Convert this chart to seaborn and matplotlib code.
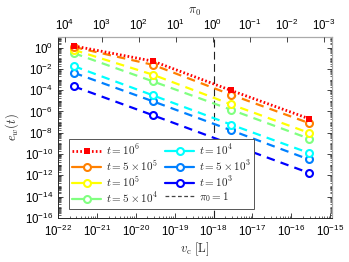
import matplotlib
matplotlib.use("Agg")
import matplotlib.pyplot as plt
import matplotlib.ticker as mticker
from matplotlib.lines import Line2D
import seaborn as sns
import numpy as np
import pandas as pd

# data
vc = [2.6e-22, 2.8e-20, 2.8e-18, 2.8e-16]
times = ["1e6", "5e5", "1e5", "5e4", "1e4", "5e3", "1e3"]
labels = [r"$t = 10^6$", r"$t = 5\times10^5$", r"$t = 10^5$",
          r"$t = 5\times10^4$", r"$t = 10^4$", r"$t = 5\times10^3$",
          r"$t = 10^3$"]
log_ew = {
    "1e6": [0.15, -1.28, -4.02, -6.67],
    "5e5": [0.05, -1.62, -4.42, -7.08],
    "1e5": [-0.22, -2.55, -5.33, -8.0],
    "5e4": [-0.53, -3.18, -5.83, -8.54],
    "1e4": [-1.75, -4.49, -7.23, -9.89],
    "5e3": [-2.37, -5.05, -7.76, -10.5],
    "1e3": [-3.65, -6.36, -9.07, -11.76],
}
colors = ["#ff0000", "#ff8000", "#ffff00", "#80ff80", "#00ffff", "#0080ff", "#0000ff"]
vc_pi0_one = 1e-18

rows = []
for t in times:
    for x, y in zip(vc, log_ew[t]):
        rows.append({"t": t, "vc": x, "ew": 10 ** y})
df = pd.DataFrame(rows)

sns.set_style("ticks")
plt.rcParams["font.family"] = ["Liberation Sans", "DejaVu Sans"]
plt.rcParams["mathtext.fontset"] = "custom"
plt.rcParams["mathtext.rm"] = "Liberation Sans"
plt.rcParams["mathtext.it"] = "Liberation Sans:italic"

fig = plt.figure(figsize=(3.49, 2.62), dpi=100)
ax = fig.add_axes([0.166, 0.168, 0.785, 0.691])

red_style = dict(lw=2.0, linestyle=(0, (0.6, 0.8)), marker="s", markersize=4,
                 markeredgewidth=0)
# draw lower curves first so red sits on top
for t, c in reversed(list(zip(times, colors))):
    sub = df[df["t"] == t]
    if t == "1e6":
        sns.lineplot(data=sub, x="vc", y="ew", ax=ax, color=c, zorder=10,
                     legend=False, **red_style)
    else:
        sns.lineplot(data=sub, x="vc", y="ew", ax=ax, color=c, lw=1.6,
                     linestyle=(0, (3.8, 2.8)), marker="o", markersize=5,
                     markerfacecolor="white", markeredgecolor=c,
                     markeredgewidth=1.5, legend=False)

ax.axvline(vc_pi0_one, color="#222222", lw=0.8, linestyle=(0, (7, 4)), zorder=1)

ax.set_xscale("log")
ax.set_yscale("log")
ax.set_xlim(1e-22, 1.1e-15)
ax.set_ylim(1e-16, 1e1)
ax.xaxis.set_major_locator(mticker.LogLocator(base=10, numticks=20))
ax.xaxis.set_minor_locator(mticker.LogLocator(base=10, subs=np.arange(2, 10), numticks=20))
ax.yaxis.set_major_locator(mticker.FixedLocator([10.0 ** k for k in range(-16, 1, 2)]))
ax.yaxis.set_minor_locator(mticker.LogLocator(base=10, subs=np.arange(1, 10), numticks=30))
ax.yaxis.set_minor_formatter(mticker.NullFormatter())
ax.tick_params(which="both", direction="in", labelsize=8.3, colors="#262626",
               labelcolor="black", right=True)
ax.tick_params(axis="x", which="major", pad=4)
ax.tick_params(which="major", length=3.5, width=0.6)
ax.tick_params(which="minor", length=1.8, width=0.5)
for s in ["left", "bottom"]:
    ax.spines[s].set_color("#262626")
    ax.spines[s].set_linewidth(0.7)
for s in ["top", "right"]:
    ax.spines[s].set_color("#aaaaaa")
    ax.spines[s].set_linewidth(0.9)

ax.set_xlabel(r"$v_\mathrm{c}\ [\mathrm{L}]$", fontsize=9, labelpad=1, math_fontfamily="cm")
ax.set_ylabel(r"$e_w(t)$", fontsize=9, labelpad=3, math_fontfamily="cm")

# top axis: pi_0
top = ax.twiny()
top.set_xscale("log")
top.set_xlim(10 ** 4.19, 10 ** -3.22)
top.xaxis.set_major_locator(mticker.LogLocator(base=10, numticks=20))
top.xaxis.set_minor_locator(mticker.NullLocator())
top.tick_params(which="major", direction="in", length=3.5, width=0.6,
                labelsize=8.3, colors="#262626", labelcolor="black", pad=3)
for s in top.spines.values():
    s.set_visible(False)
top.set_xlabel(r"$\pi_0$", fontsize=9, labelpad=3, math_fontfamily="cm")

handles = [Line2D([0], [0], color=colors[0], **red_style)]
for c in colors[1:]:
    handles.append(Line2D([0], [0], color=c, lw=1.6, marker="o", markersize=5,
                          markerfacecolor="white", markeredgecolor=c,
                          markeredgewidth=1.5))
handles.append(Line2D([0], [0], color="#444444", lw=0.9, linestyle=(0, (3, 2))))
leg_labels = labels + [r"$\pi_0 = 1$"]
leg = ax.legend(handles, leg_labels,
                ncol=2, loc="lower left", bbox_to_anchor=(0.02, 0.02),
                fontsize=8, frameon=True, fancybox=False, framealpha=1,
                edgecolor="#555555", handlelength=2.6, handletextpad=0.4,
                columnspacing=0.7, labelspacing=0.12, borderpad=0.3)
leg.get_frame().set_linewidth(0.7)
for txt in leg.get_texts():
    txt.set_math_fontfamily("cm")

fig.savefig("out.png", dpi=100)
